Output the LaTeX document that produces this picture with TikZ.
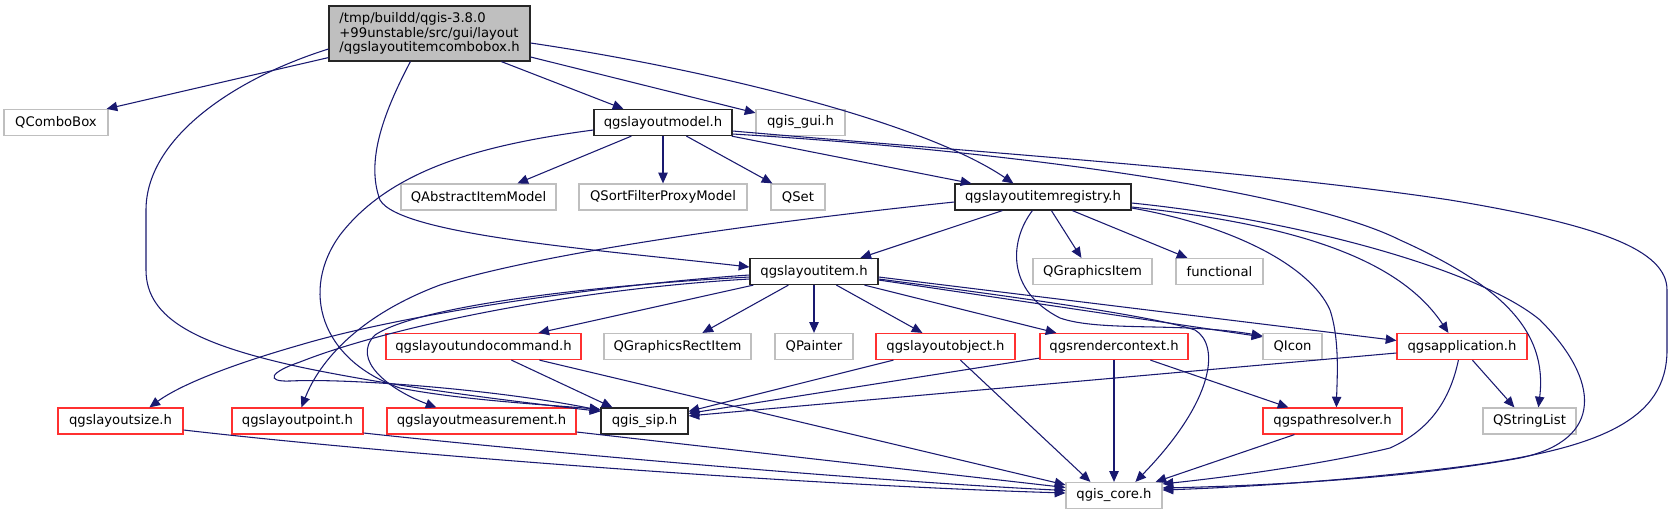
\documentclass[tikz,border=0pt]{standalone}
\usepackage{fontspec}
\setmainfont{DejaVu Sans}
\usetikzlibrary{arrows.meta,calc}
\definecolor{midblue}{HTML}{191970}
\definecolor{greyb}{HTML}{BFBFBF}
\definecolor{redb}{HTML}{FF3030}
\tikzset{
  nd/.style={draw, line width=0.9pt, inner sep=0pt, minimum height=19.5pt,
    font=\fontsize{9.9}{11}\selectfont, anchor=center},
  docnode/.style={nd, draw=black!85},
  extnode/.style={nd, draw=greyb},
  trnode/.style={nd, draw=redb},
  wd/.style={minimum width=#1*0.75pt},
  dep/.style={draw=midblue, line width=0.8pt, -{Triangle[length=8pt,width=7pt]}},
}
\begin{document}
\begin{tikzpicture}[x=0.75pt,y=-0.75pt]
\path[use as bounding box, fill=white] (0,0) rectangle (1671,515);
% nodes
\node[docnode, fill=greyb, wd=201, minimum height=41.25pt, align=left,
  font=\fontsize{9.9}{11}\selectfont] (main) at (429.5,33.5)
  {/tmp/buildd/qgis-3.8.0\\+99unstable/src/gui/layout\\/qgslayoutitemcombobox.h};
\node[extnode, wd=104] (QCB) at (56,122.5) {QComboBox};
\node[docnode, wd=138] (LM) at (663,122.5) {qgslayoutmodel.h};
\node[extnode, wd=89] (gui) at (800.5,122.5) {qgis\_gui.h};
\node[extnode, wd=155] (QAIM) at (478.5,197) {QAbstractItemModel};
\node[extnode, wd=168] (QSFPM) at (663,197) {QSortFilterProxyModel};
\node[extnode, wd=54] (QSet) at (798,197) {QSet};
\node[docnode, wd=176] (reg) at (1043,197) {qgslayoutitemregistry.h};
\node[docnode, wd=128] (LI) at (814,271.5) {qgslayoutitem.h};
\node[extnode, wd=119] (QGI) at (1092.5,271.5) {QGraphicsItem};
\node[extnode, wd=87] (func) at (1219.5,271.5) {functional};
\node[trnode, wd=195] (undo) at (483.5,346.5) {qgslayoutundocommand.h};
\node[extnode, wd=147] (QGRI) at (677.5,346.5) {QGraphicsRectItem};
\node[extnode, wd=78] (QP) at (814,346.5) {QPainter};
\node[trnode, wd=139] (lobj) at (945.5,346.5) {qgslayoutobject.h};
\node[trnode, wd=148] (rctx) at (1114,346.5) {qgsrendercontext.h};
\node[extnode, wd=59] (QIcon) at (1292.5,346.5) {QIcon};
\node[trnode, wd=130] (app) at (1462,346.5) {qgsapplication.h};
\node[trnode, wd=125] (size) at (120.5,421) {qgslayoutsize.h};
\node[trnode, wd=131] (point) at (297.5,421) {qgslayoutpoint.h};
\node[trnode, wd=189] (meas) at (481.5,421) {qgslayoutmeasurement.h};
\node[docnode, wd=87] (sip) at (644.5,421) {qgis\_sip.h};
\node[trnode, wd=139] (path) at (1332.5,421) {qgspathresolver.h};
\node[extnode, wd=93] (QSL) at (1529.5,421) {QStringList};
\node[extnode, wd=96] (core) at (1114,495.5) {qgis\_core.h};
% edges from main
\draw[dep] ($(main.south west)+(0,-4)$) -- ($(QCB.north east)+(-2,0)$);
\draw[dep] ($(main.west)+(0,15.5)$) .. controls (230,80) and (146,140) .. (146,210) -- (146,270)
  .. controls (146,320) and (200,345) .. (300,367) .. controls (400,388) and (520,402) .. ($(sip.north west)+(0,4)$);
\draw[dep] ($(main.south west)+(82,0)$) .. controls (385,110) and (365,160) .. (380,200)
  .. controls (400,235) and (600,250) .. ($(LI.west)+(0,-4.5)$);
\draw[dep] ($(main.south west)+(173,0)$) -- ($(LM.north west)+(30,0)$);
\draw[dep] ($(main.east)+(0,23.5)$) -- ($(gui.north west)+(0,4)$);
\draw[dep] ($(main.east)+(0,9.5)$) .. controls (700,68) and (920,120) .. ($(reg.north west)+(59,0)$);
% edges from qgslayoutmodel.h
\draw[dep] ($(LM.south west)+(38,0)$) -- ($(QAIM.north west)+(117,0)$);
\draw[dep] (LM.south) -- (QSFPM.north);
\draw[dep] ($(LM.south west)+(93,0)$) -- ($(QSet.north west)+(2,0)$);
\draw[dep] ($(LM.south east)+(-1,0)$) -- ($(reg.north west)+(17,0)$);
\draw[dep] ($(LM.west)+(0,7.5)$) .. controls (480,145) and (390,170) .. (340,235)
  .. controls (300,290) and (320,360) .. (400,388) .. controls (460,400) and (550,405) .. ($(sip.north west)+(0,2)$);
\draw[dep] ($(LM.east)+(0,8.5)$) .. controls (950,150) and (1250,170) .. (1450,200)
  .. controls (1600,225) and (1667,250) .. (1667,290) -- (1667,350)
  .. controls (1667,420) and (1600,450) .. (1450,468) .. controls (1350,480) and (1250,487) .. ($(core.east)+(0,-5.5)$);
\draw[dep] ($(LM.east)+(0,11.5)$) .. controls (1000,150) and (1300,190) .. (1400,240)
  .. controls (1500,285) and (1548,330) .. ($(QSL.north west)+(56,0)$);
% edges from registry
\draw[dep] ($(reg.south west)+(48,0)$) -- ($(LI.north west)+(111,0)$);
\draw[dep] ($(reg.south west)+(97,0)$) -- ($(QGI.north west)+(49,0)$);
\draw[dep] ($(reg.south west)+(118,0)$) -- ($(func.north west)+(12,0)$);
\draw[dep] ($(reg.east)+(0,6)$) .. controls (1300,220) and (1480,270) .. (1540,320)
  .. controls (1600,380) and (1605,440) .. (1520,458) .. controls (1400,480) and (1250,486) .. ($(core.east)+(0,-7.5)$);
\draw[dep] ($(reg.east)+(0,10)$) .. controls (1300,225) and (1400,260) .. ($(app.north west)+(52,0)$);
\draw[dep] ($(reg.east)+(0,11)$) .. controls (1230,225) and (1310,265) .. (1330,310)
  .. controls (1340,340) and (1337,380) .. ($(path.north west)+(74,0)$);
\draw[dep] ($(reg.south west)+(78,0)$) .. controls (1010,240) and (1005,290) .. (1060,318)
  .. controls (1100,332) and (1180,322) .. ($(QIcon.north west)+(0,3)$);
\draw[dep] ($(reg.west)+(0,5)$) .. controls (800,218) and (550,250) .. (440,285)
  .. controls (360,315) and (320,360) .. ($(point.north west)+(70,0)$);
% edges from qgslayoutitem.h
\draw[dep] ($(LI.east)+(0,7.5)$) .. controls (1000,295) and (1150,315) .. (1195,330)
  .. controls (1220,345) and (1215,400) .. ($(core.north west)+(70,0)$);
\draw[dep] ($(LI.east)+(0,8.5)$) -- ($(QIcon.north west)+(0,4)$);
\draw[dep] ($(LI.east)+(0,5.5)$) -- ($(app.west)+(0,-6)$);
\draw[dep] ($(LI.south west)+(4,0)$) -- ($(undo.north west)+(153,0)$);
\draw[dep] ($(LI.south west)+(39,0)$) -- ($(QGRI.north west)+(99,0)$);
\draw[dep] (LI.south) -- (QP.north);
\draw[dep] ($(LI.south west)+(87,0)$) -- ($(lobj.north west)+(47,0)$);
\draw[dep] ($(LI.south west)+(115,0)$) -- ($(rctx.north west)+(17,0)$);
\draw[dep] ($(LI.west)+(0,3.5)$) .. controls (600,285) and (400,315) .. (300,345)
  .. controls (230,365) and (180,385) .. ($(size.north west)+(92,0)$);
\draw[dep] ($(LI.west)+(0,5.5)$) .. controls (600,285) and (420,305) .. (375,335)
  .. controls (350,360) and (390,390) .. ($(meas.north west)+(50,0)$);
\draw[dep] ($(LI.west)+(0,7.5)$) .. controls (560,290) and (380,330) .. (300,362)
  .. controls (270,372) and (265,382) .. (290,381) .. controls (350,378) and (500,390) .. ($(sip.north west)+(0,3)$);
% lower edges
\draw[dep] ($(undo.south west)+(126,0)$) -- ($(sip.north west)+(12,0)$);
\draw[dep] ($(undo.south west)+(154,0)$) -- ($(core.north west)+(0,3)$);
\draw[dep] ($(lobj.south west)+(18,0)$) -- ($(sip.north east)+(0,4)$);
\draw[dep] ($(lobj.south west)+(85,0)$) -- ($(core.north west)+(25,0)$);
\draw[dep] ($(rctx.south west)+(0,-2)$) -- ($(sip.north east)+(0,6)$);
\draw[dep] (rctx.south) -- (core.north);
\draw[dep] ($(rctx.south west)+(111,0)$) -- ($(path.north west)+(26,0)$);
\draw[dep] ($(app.west)+(0,6.5)$) -- ($(sip.north east)+(0,8.5)$);
\draw[dep] ($(app.south west)+(62,0)$) .. controls (1450,400) and (1430,430) .. (1390,448)
  .. controls (1320,465) and (1220,478) .. ($(core.north east)+(0,2)$);
\draw[dep] ($(app.south west)+(76,0)$) -- ($(QSL.north west)+(32,0)$);
\draw[dep] ($(path.south west)+(32,0)$) -- ($(core.north east)+(-7,0)$);
\draw[dep] ($(size.east)+(0,9)$) .. controls (400,455) and (800,485) .. ($(core.west)+(0,-2.5)$);
\draw[dep] ($(point.east)+(0,12)$) .. controls (500,448) and (850,480) .. ($(core.west)+(0,-5)$);
\draw[dep] ($(meas.east)+(0,11)$) -- ($(core.west)+(0,-8)$);
\end{tikzpicture}
\end{document}
